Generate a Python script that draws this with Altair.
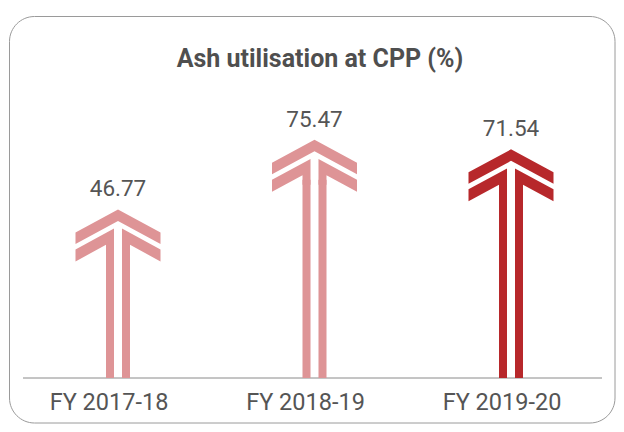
import altair as alt
import pandas as pd

# ---- data ----
years = ["FY 2017-18", "FY 2018-19", "FY 2019-20"]
values = [46.77, 75.47, 71.54]
labels = ["46.77", "75.47", "71.54"]
title_text = "Ash utilisation at CPP (%)"

df = pd.DataFrame({"year": years, "value": values, "label": labels})
one = pd.DataFrame({"k": [0]})

arrow_colors = ["#DE9496", "#DE9496", "#B7282B"]
Y_MIN, Y_MAX = -22.8, 91.9
W, H = 579, 278

# double-chevron arrow head, tip at (0,0), unit = 42.5 px
CHEVRON = (
    "M0,0 L-1,0.541 L-1,0.812 L0,0.271 L1,0.812 L1,0.541 Z "
    "M-0.094,0.452 L-1,0.941 L-1,1.224 L-0.282,0.835 L-0.282,1.06 L-0.094,1.06 Z "
    "M0.094,0.452 L1,0.941 L1,1.224 L0.282,0.835 L0.282,1.06 L0.094,1.06 Z"
)

x_enc = alt.X(
    "year:N",
    sort=None,
    scale=alt.Scale(type="point", range=[95, 488], padding=0),
    axis=None,
)
y_enc = alt.Y("value:Q", scale=alt.Scale(domain=[Y_MIN, Y_MAX], nice=False, zero=False), axis=None)
c_enc = alt.Color("year:N", sort=None, scale=alt.Scale(domain=years, range=arrow_colors), legend=None)

base = alt.Chart(df).encode(x=x_enc, y=y_enc, color=c_enc)

frame = alt.Chart(one).mark_rect(
    cornerRadius=25, fillOpacity=0, stroke="#9a9a9a", strokeWidth=1
).encode(x=alt.value(-13.5), x2=alt.value(592), y=alt.value(-83.5), y2=alt.value(323))

title = alt.Chart(one).mark_text(
    text=title_text, font="Roboto", fontSize=25, fontWeight="bold",
    color="#4f4f4f", align="center", baseline="alphabetic",
).encode(x=alt.value(297), y=alt.value(-33.3))

baseline = alt.Chart(one).mark_rule(color="#8a8a8a", strokeWidth=1).encode(
    x=alt.value(0), x2=alt.value(W), y=alt.value(H)
)

shaft_l = base.mark_rule(strokeWidth=8, xOffset=-8, yOffset=40).encode(y2=alt.value(H))
shaft_r = base.mark_rule(strokeWidth=8, xOffset=8, yOffset=40).encode(y2=alt.value(H))

heads = base.mark_point(
    shape=CHEVRON, size=7225, filled=True, opacity=1, strokeWidth=0
)

text = base.mark_text(
    dy=-13, baseline="alphabetic", font="Roboto", fontSize=22.5, color="#555555"
).encode(text="label:N", color=alt.value("#555555"))

cat_labels = alt.Chart(df).mark_text(
    dy=32, dx=-9, baseline="alphabetic", align="center",
    font="Roboto", fontSize=23.5, color="#555555",
).encode(x=x_enc, y=alt.value(H), text="year:N")

chart = alt.layer(frame, title, baseline, shaft_l, shaft_r, heads, text, cat_labels).properties(
    width=W, height=H,
    padding={"left": 15, "top": 92, "right": 14, "bottom": 46},
    autosize=alt.AutoSizeParams(type="none"),
).configure_view(stroke=None)

chart.save("out.html", embed_options={"renderer": "svg", "actions": False})
